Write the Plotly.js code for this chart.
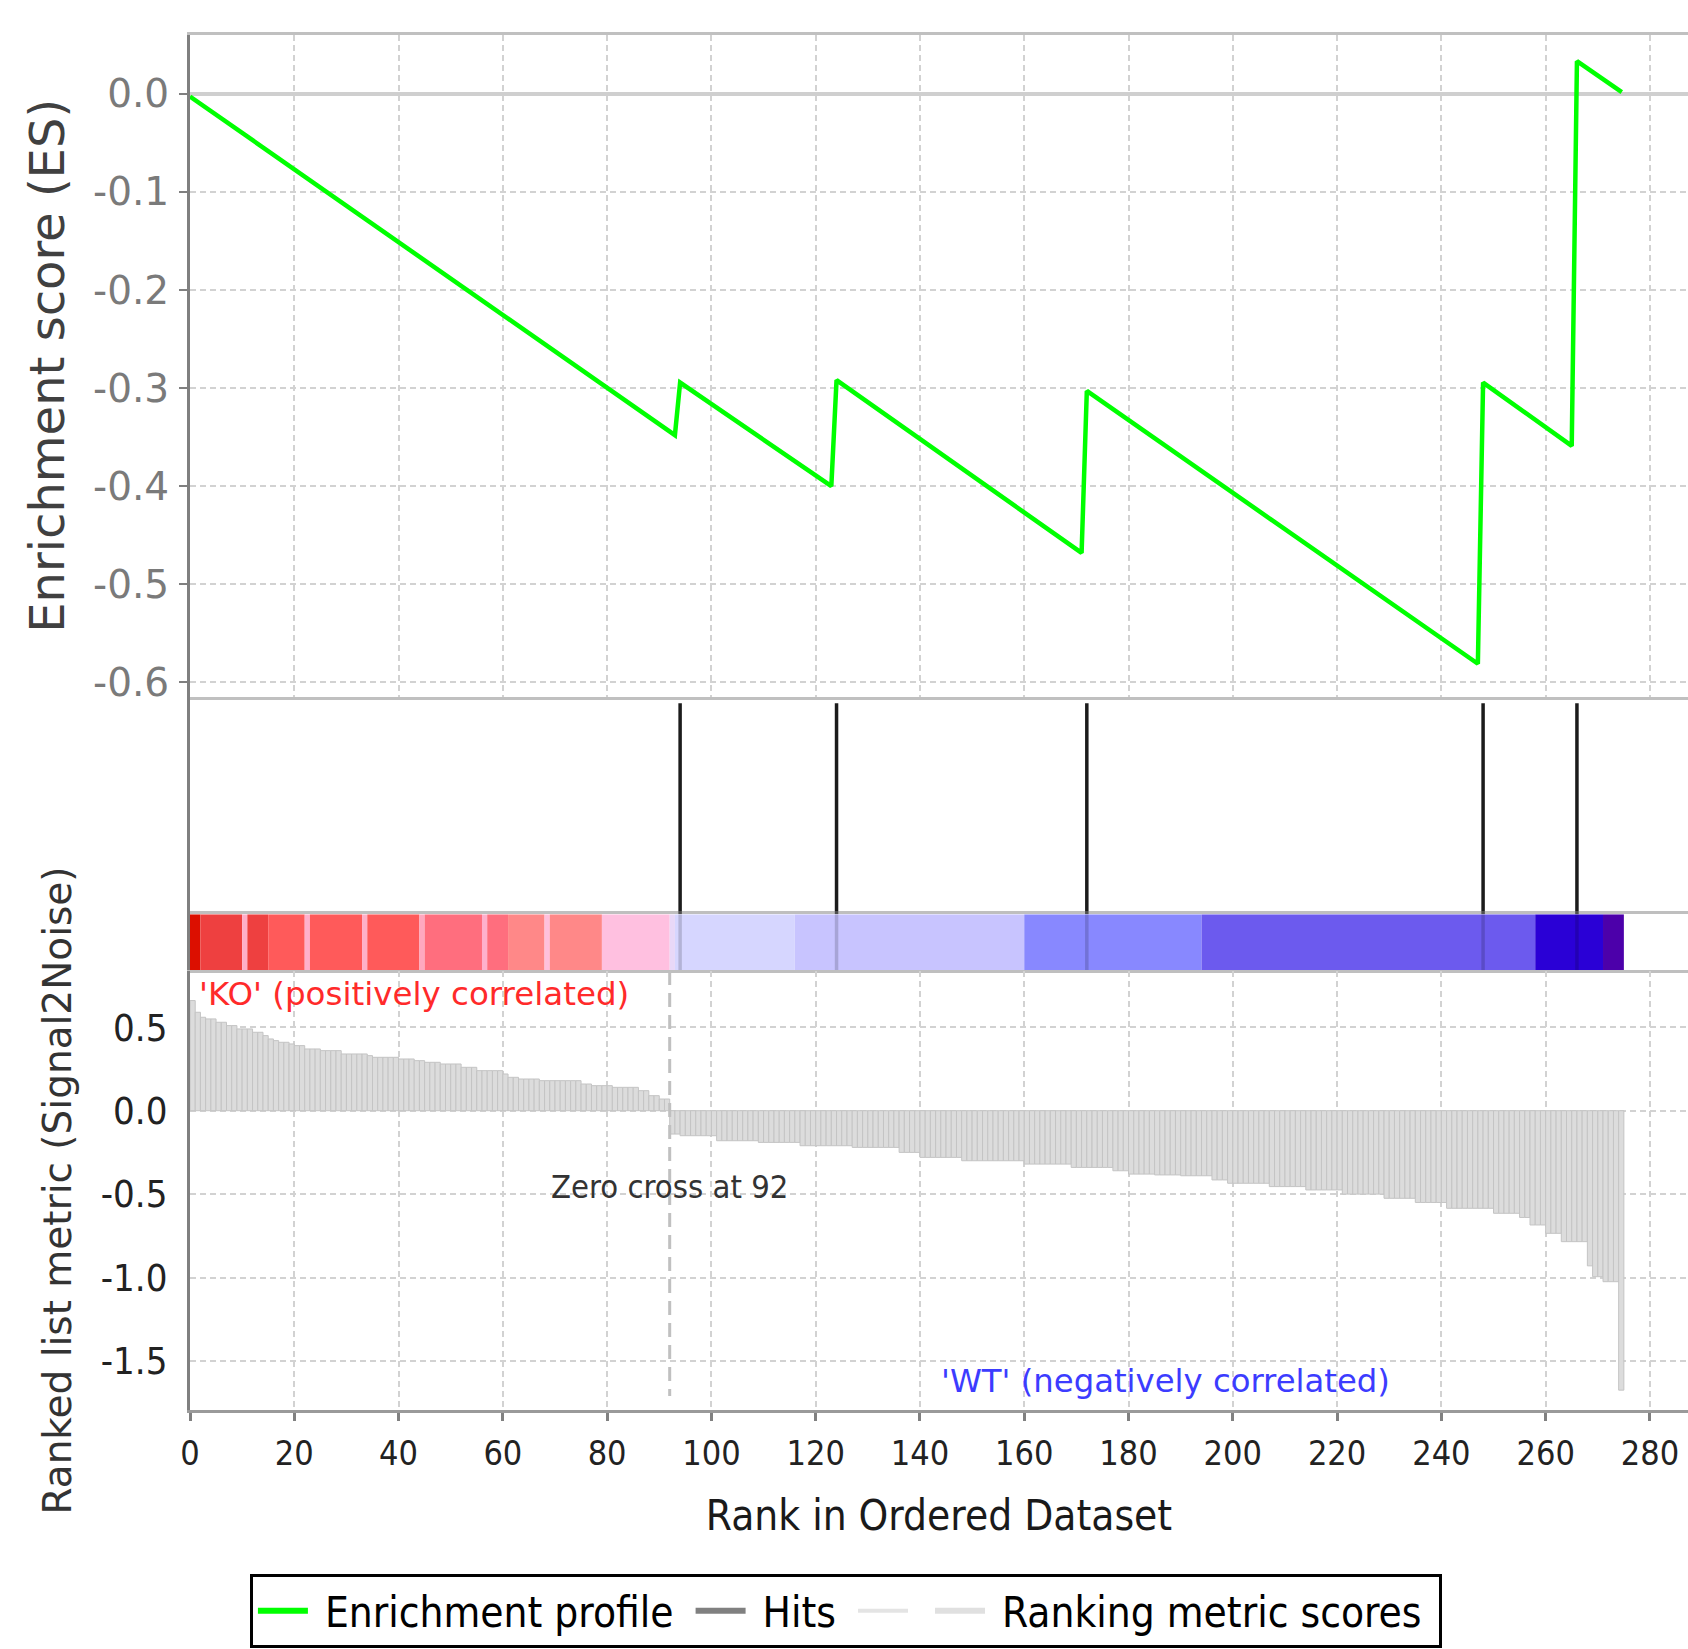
<!DOCTYPE html>
<html><head><meta charset="utf-8">
<script src="https://cdn.plot.ly/plotly-3.0.1.min.js"></script>
<style>html,body{margin:0;padding:0;background:#fff}</style>
</head><body><div id="chart" style="width:1688px;height:1649px"></div>
<script>
// ---------------- data ----------------
const rankTickVals = [0,20,40,60,80,100,120,140,160,180,200,220,240,260,280];
const rankTickText = ['0','20','40','60','80','100','120','140','160','180','200','220','240','260','280'];
const esTickVals = [0,-0.1,-0.2,-0.3,-0.4,-0.5,-0.6];
const esTickText = ['0.0','-0.1','-0.2','-0.3','-0.4','-0.5','-0.6'];
const metricTickVals = [0.5,0,-0.5,-1.0,-1.5];
const metricTickText = ['0.5','0.0','-0.5','-1.0','-1.5'];

// running enrichment score (vertices of the profile)
const esRank  = [0, 93, 94, 123, 124, 171, 172, 247, 248, 265, 266, 274.6];
const esScore = [-0.003, -0.348, -0.2945, -0.400, -0.292, -0.468, -0.303, -0.581, -0.2945, -0.359, 0.033, 0.0015];

// ranks of gene-set members (hits)
const hitRanks = [94, 124, 172, 248, 266];

// ranked list metric (Signal2Noise), rank 0..274
const metricScore = [
  0.66,0.59,0.56,0.55,0.55,0.53,0.53,0.51,0.51,0.49,
  0.49,0.49,0.47,0.47,0.45,0.43,0.42,0.41,0.41,0.40,
  0.39,0.39,0.37,0.37,0.37,0.36,0.36,0.36,0.36,0.34,
  0.34,0.34,0.34,0.34,0.33,0.32,0.32,0.32,0.32,0.32,
  0.31,0.31,0.31,0.30,0.30,0.29,0.29,0.29,0.28,0.28,
  0.28,0.28,0.26,0.26,0.26,0.24,0.24,0.24,0.24,0.24,
  0.22,0.20,0.20,0.19,0.19,0.19,0.19,0.18,0.18,0.18,
  0.18,0.18,0.18,0.18,0.18,0.16,0.16,0.15,0.15,0.15,
  0.15,0.14,0.14,0.14,0.14,0.14,0.12,0.12,0.09,0.09,
  0.07,0.07,
  -0.14,-0.14,-0.15,-0.15,-0.15,-0.15,-0.15,-0.15,-0.15,
  -0.18,-0.18,-0.18,-0.18,-0.18,-0.18,-0.18,-0.18,
  -0.19,-0.19,-0.19,-0.19,-0.19,-0.19,-0.19,-0.19,
  -0.21,-0.21,-0.21,-0.21,-0.21,-0.21,-0.21,-0.21,-0.21,-0.21,
  -0.22,-0.22,-0.22,-0.22,-0.22,-0.22,-0.22,-0.22,-0.22,
  -0.25,-0.25,-0.25,-0.25,
  -0.28,-0.28,-0.28,-0.28,-0.28,-0.28,-0.28,-0.28,
  -0.30,-0.30,-0.30,-0.30,-0.30,-0.30,-0.30,-0.30,-0.30,-0.30,-0.30,-0.30,
  -0.32,-0.32,-0.32,-0.32,-0.32,-0.32,-0.32,-0.32,-0.32,
  -0.34,-0.34,-0.34,-0.34,-0.34,-0.34,-0.34,-0.34,
  -0.36,-0.36,-0.36,
  -0.38,-0.38,-0.38,-0.38,-0.38,
  -0.385,-0.385,-0.385,-0.385,-0.385,
  -0.39,-0.39,-0.39,-0.39,-0.39,-0.39,
  -0.415,-0.415,-0.415,
  -0.435,-0.435,-0.435,-0.435,-0.435,-0.435,-0.435,-0.435,
  -0.455,-0.455,-0.455,-0.455,-0.455,-0.455,-0.455,
  -0.475,-0.475,-0.475,-0.475,-0.475,-0.475,-0.475,
  -0.50,-0.50,-0.50,-0.50,-0.50,-0.50,-0.50,-0.50,
  -0.525,-0.525,-0.525,-0.525,-0.525,-0.525,
  -0.55,-0.55,-0.55,-0.55,-0.55,-0.55,
  -0.585,-0.585,-0.585,-0.585,-0.585,-0.585,-0.585,-0.585,-0.585,
  -0.615,-0.615,-0.615,-0.615,-0.615,
  -0.64,-0.64,
  -0.685,-0.685,-0.685,
  -0.735,-0.735,-0.735,
  -0.785,-0.785,-0.785,-0.785,-0.785,
  -0.93,-0.995,-0.995,-1.025,-1.025,-1.025,-1.675
];
const zeroCrossRank = 92;

// colour strip segments (rank ranges)
const segStart = [0, 2, 10, 11, 15, 22, 23, 33, 34, 44, 45, 56, 57, 61, 68, 69, 79, 92, 93, 116, 160, 194, 258, 271];
const segEnd   = [2, 10, 11, 15, 22, 23, 33, 34, 44, 45, 56, 57, 61, 68, 69, 79, 92, 93, 116, 160, 194, 258, 271, 275];
const segColor = ['#dc0f00','#ee4040','#ffaec8','#ee4040','#ff5a5a','#ffb0cc','#ff5a5a','#ffb0c8','#ff5a5a','#ffa8c0',
                  '#ff6e7e','#ffb0cc','#ff6e7e','#ff8888','#ffc0dc','#ff8888','#ffc0e0','#e8d8f8','#d6d6ff','#c8c4ff',
                  '#8888ff','#6c5aee','#2a00d6','#4c00aa'];

const legendNames = ['Enrichment profile', 'Hits', '', 'Ranking metric scores'];

// ---------------- drawing ----------------
const FONT = 'DejaVu Sans';
const FONTC = '"DejaVu Sans Condensed", "DejaVu Sans"';
const NB = '\u00a0';

const hitX = [], hitY = [];
hitRanks.forEach(h => { hitX.push(h, h, null); hitY.push(0, 0.97, null); });
const hitX2 = [], hitY2 = [];
hitRanks.forEach(h => { hitX2.push(h, h, null); hitY2.push(0, 1, null); });

const ranks = metricScore.map((v, i) => i);

const traces = [
  { type:'bar', x: ranks, y: metricScore, xaxis:'x4', yaxis:'y4', width: 1, offset: 0,
    marker:{color:'#dcdcdc', line:{color:'#c4c4c4', width:1}}, showlegend:false, hoverinfo:'skip' },
  { type:'scatter', mode:'lines', x:[zeroCrossRank, zeroCrossRank], y:[0.8375, -1.71], xaxis:'x4', yaxis:'y4',
    line:{color:'#c0c0c0', width:3, dash:'14px,8px'}, showlegend:false, hoverinfo:'skip' },
  { type:'bar', x: segStart, y: segStart.map(() => 1), base: 0, width: segStart.map((s, i) => segEnd[i] - s), offset: 0,
    xaxis:'x3', yaxis:'y3', marker:{color: segColor, line:{width:0}}, showlegend:false, hoverinfo:'skip' },
  { type:'scatter', mode:'lines', x: hitX2, y: hitY2, xaxis:'x3', yaxis:'y3',
    line:{color:'rgba(0,0,0,0.16)', width:3.5}, showlegend:false, hoverinfo:'skip' },
  { type:'scatter', mode:'lines', x: hitX, y: hitY, xaxis:'x2', yaxis:'y2',
    line:{color:'#1c1c1c', width:3.5}, showlegend:false, hoverinfo:'skip' },
  { type:'scatter', mode:'lines', x: esRank, y: esScore, xaxis:'x', yaxis:'y',
    line:{color:'#00ff00', width:4.5}, showlegend:false, hoverinfo:'skip' },
  // legend entries
  { type:'scatter', mode:'lines', x:[null], y:[null], xaxis:'x4', yaxis:'y4', name: NB + legendNames[0] + NB,
    line:{color:'#00ff00', width:6} },
  { type:'scatter', mode:'lines', x:[null], y:[null], xaxis:'x4', yaxis:'y4', name: NB + legendNames[1] + NB,
    line:{color:'#808080', width:6} },
  { type:'scatter', mode:'lines', x:[null], y:[null], xaxis:'x4', yaxis:'y4', name: legendNames[2] + NB,
    line:{color:'#e4e4e4', width:4} },
  { type:'scatter', mode:'lines', x:[null], y:[null], xaxis:'x4', yaxis:'y4', name: NB + legendNames[3] + NB,
    line:{color:'#e0e0e0', width:6} }
];

const XR = [0, 287.3];
const grid = {showgrid:true, gridcolor:'#d2d2d2', gridwidth:2, griddash:'6px,4px'};
const noGrid = {showgrid:false, zeroline:false, showticklabels:false, ticks:''};

const layout = {
  width:1688, height:1649,
  margin:{l:190, r:0, t:35, b:239, autoexpand:false},
  paper_bgcolor:'#fff', plot_bgcolor:'#fff',
  showlegend:true,
  xaxis: Object.assign({}, grid, {anchor:'y', range:XR, tickvals:rankTickVals, showticklabels:false, ticks:'',
    zeroline:false, showline:true, mirror:true, linecolor:'#c0c0c0', linewidth:3}),
  yaxis: Object.assign({}, grid, {anchor:'x', domain:[0.5188, 1], range:[-0.6145, 0.0597],
    tickvals:esTickVals, ticktext:esTickText, ticks:'outside', ticklen:8, tickwidth:2, tickcolor:'#808080',
    tickfont:{family:FONT, size:39, color:'#7a7a7a'}, ticklabelstandoff:2,
    zeroline:true, zerolinecolor:'#cfcfcf', zerolinewidth:4,
    showline:true, linecolor:'#808080', linewidth:3,
    title:{text:'Enrichment score (ES)', font:{family:FONT, size:48, color:'#404040'}, standoff:14}}),
  xaxis2: Object.assign({}, noGrid, {anchor:'y2', range:XR, showline:false}),
  yaxis2: Object.assign({}, noGrid, {anchor:'x2', domain:[0.3605, 0.5188], range:[0,1],
    showline:true, linecolor:'#808080', linewidth:3}),
  xaxis3: Object.assign({}, noGrid, {anchor:'y3', range:XR, showline:true, mirror:true,
    linecolor:'rgba(128,128,128,0.5)', linewidth:3}),
  yaxis3: Object.assign({}, noGrid, {anchor:'x3', domain:[0.32, 0.3605], range:[0,1],
    showline:true, linecolor:'#808080', linewidth:3}),
  xaxis4: Object.assign({}, grid, {anchor:'y4', range:XR, tickvals:rankTickVals, ticktext:rankTickText,
    ticks:'outside', ticklen:8, tickwidth:3, tickcolor:'#808080', zeroline:false,
    tickfont:{family:FONTC, size:34, color:'#222'}, ticklabelstandoff:3,
    showline:true, linecolor:'#9a9a9a', linewidth:3,
    title:{text:'Rank in Ordered Dataset', font:{family:FONTC, size:42, color:'#1a1a1a'}, standoff:29}}),
  yaxis4: Object.assign({}, grid, {anchor:'x4', domain:[0, 0.3193], range:[-1.794, 0.8375],
    tickvals:metricTickVals, ticktext:metricTickText, ticks:'', zeroline:false,
    tickfont:{family:FONTC, size:38, color:'#222'}, ticklabelstandoff:12,
    showline:true, linecolor:'#808080', linewidth:3,
    title:{text:'Ranked list metric (Signal2Noise)', font:{family:FONT, size:39, color:'#333'}, standoff:18}}),
  legend:{orientation:'h', x:0.040, xanchor:'left', y:-0.1193, yanchor:'top',
    bgcolor:'#fff', bordercolor:'#000', borderwidth:3,
    font:{family:FONTC, size:42, color:'#000'}, itemwidth:50, traceorder:'normal'},
  annotations:[
    {xref:'x4', yref:'y4', x:1.4, y:0.70, xanchor:'left', yanchor:'middle', showarrow:false,
     text:"'KO' (positively correlated)", font:{family:FONT, size:32.5, color:'#ff2a2a'}},
    {xref:'x4', yref:'y4', x:143.6, y:-1.62, xanchor:'left', yanchor:'middle', showarrow:false,
     text:"'WT' (negatively correlated)", font:{family:FONT, size:32.3, color:'#3c3cff'}},
    {xref:'x4', yref:'y4', x:zeroCrossRank, y:-0.46, xanchor:'center', yanchor:'middle', showarrow:false,
     text:'Zero cross at ' + zeroCrossRank, font:{family:FONTC, size:32.5, color:'#333'}}
  ]
};

Plotly.newPlot('chart', traces, layout, {displayModeBar:false, staticPlot:true});
</script></body></html>
